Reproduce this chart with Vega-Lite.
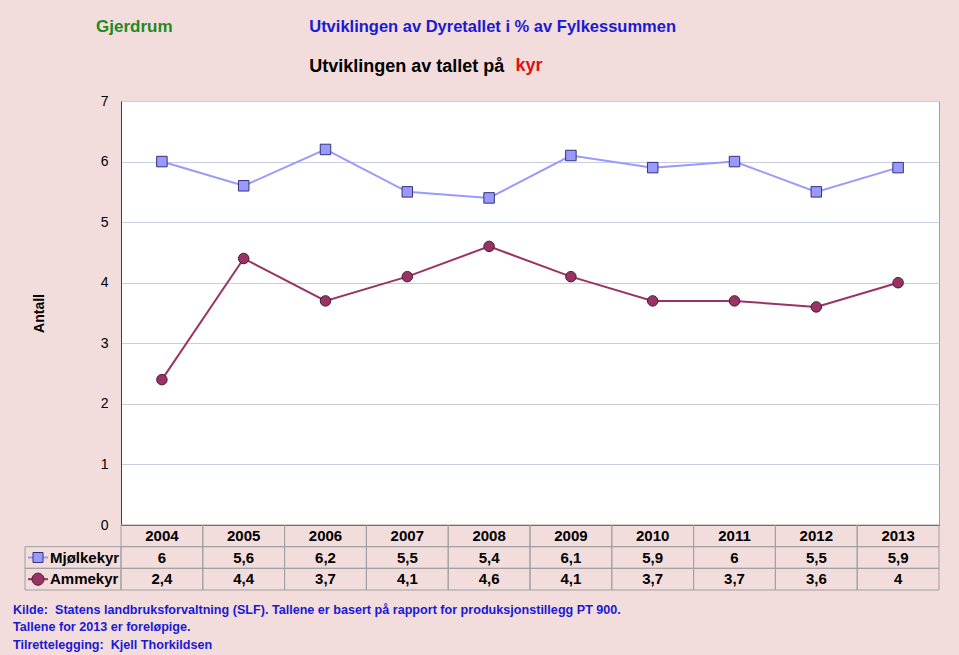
{
  "$schema": "https://vega.github.io/schema/vega-lite/v6.json",
  "background": "#f2dcdc",
  "padding": {"left": 13, "top": 18, "right": 21, "bottom": 4},
  "autosize": {"type": "pad"},
  "columns": 2,
  "spacing": 0,
  "bounds": "flush",
  "resolve": {"scale": {"x": "independent", "y": "independent", "color": "independent", "fill": "independent", "stroke": "independent", "shape": "independent"}},
  "config": {
    "font": "Liberation Sans",
    "view": {"stroke": null},
    "locale": {"number": {"decimal": ",", "thousands": " ", "grouping": [3], "currency": ["", " kr"]}}
  },
  "datasets": {
    "kyr": [
      {"year": "2004", "series": "Mjølkekyr", "value": 6},
      {"year": "2005", "series": "Mjølkekyr", "value": 5.6},
      {"year": "2006", "series": "Mjølkekyr", "value": 6.2},
      {"year": "2007", "series": "Mjølkekyr", "value": 5.5},
      {"year": "2008", "series": "Mjølkekyr", "value": 5.4},
      {"year": "2009", "series": "Mjølkekyr", "value": 6.1},
      {"year": "2010", "series": "Mjølkekyr", "value": 5.9},
      {"year": "2011", "series": "Mjølkekyr", "value": 6},
      {"year": "2012", "series": "Mjølkekyr", "value": 5.5},
      {"year": "2013", "series": "Mjølkekyr", "value": 5.9},
      {"year": "2004", "series": "Ammekyr", "value": 2.4},
      {"year": "2005", "series": "Ammekyr", "value": 4.4},
      {"year": "2006", "series": "Ammekyr", "value": 3.7},
      {"year": "2007", "series": "Ammekyr", "value": 4.1},
      {"year": "2008", "series": "Ammekyr", "value": 4.6},
      {"year": "2009", "series": "Ammekyr", "value": 4.1},
      {"year": "2010", "series": "Ammekyr", "value": 3.7},
      {"year": "2011", "series": "Ammekyr", "value": 3.7},
      {"year": "2012", "series": "Ammekyr", "value": 3.6},
      {"year": "2013", "series": "Ammekyr", "value": 4}
    ]
  },
  "concat": [
    {
      "width": 96,
      "height": 424,
      "title": {"text": "Gjerdrum", "anchor": "start", "dx": 71, "dy": -39, "offset": 26, "color": "#1e8a1e", "fontSize": 17, "fontWeight": "bold", "font": "Liberation Sans"},
      "data": {"values": []},
      "mark": "point"
    },
    {
      "width": 818,
      "height": 424,
      "title": {
        "text": "Utviklingen av Dyretallet i % av Fylkessummen",
        "subtitle": "Utviklingen av tallet på",
        "anchor": "start",
        "dx": 277,
        "offset": -20,
        "color": "#1a1ad0",
        "fontSize": 16.5,
        "fontWeight": "bold",
        "font": "Liberation Sans",
        "subtitleColor": "#000000",
        "subtitleFontSize": 18,
        "subtitleFontWeight": "bold",
        "subtitleFont": "Liberation Sans",
        "subtitlePadding": 23
      },
      "view": {"stroke": "#a0a0a0", "fill": "#ffffff"},
      "data": {"name": "kyr"},
      "encoding": {
        "x": {
          "field": "year",
          "type": "ordinal",
          "scale": {"type": "point", "padding": 0.5},
          "axis": {"orient": "top", "labels": false, "ticks": false, "domain": false, "grid": false, "title": "kyr", "titleColor": "#e01010", "titleFontSize": 18, "titleFontWeight": "bold", "titleFont": "Liberation Sans", "titleX": 394, "titleY": -31, "titleAlign": "left", "titleBaseline": "alphabetic"}
        },
        "y": {
          "field": "value",
          "type": "quantitative",
          "scale": {"domain": [0, 7]},
          "axis": {
            "values": [0, 1, 2, 3, 4, 5, 6, 7],
            "title": "Antall",
            "grid": true,
            "gridColor": {"condition": {"test": "datum.value === 0", "value": "#404040"}, "value": "#c8cde0"},
            "ticks": false,
            "domainColor": "#404040",
            "labelPadding": 13,
            "labelFontSize": 14,
            "labelColor": "#000000",
            "labelFont": "Liberation Sans",
            "titleFontSize": 14,
            "titleColor": "#000000",
            "titleFont": "Liberation Sans",
            "titleFontWeight": "bold",
            "titlePadding": 54
          }
        }
      },
      "layer": [
        {
          "mark": {"type": "line", "strokeWidth": 2},
          "encoding": {
            "color": {"field": "series", "type": "nominal", "scale": {"domain": ["Mjølkekyr", "Ammekyr"], "range": ["#9999ff", "#993366"]}, "legend": null}
          }
        },
        {
          "mark": {"type": "point", "filled": true, "size": 110, "opacity": 1, "strokeWidth": 1},
          "encoding": {
            "shape": {"field": "series", "type": "nominal", "scale": {"domain": ["Mjølkekyr", "Ammekyr"], "range": ["square", "circle"]}, "legend": null},
            "fill": {"field": "series", "type": "nominal", "scale": {"domain": ["Mjølkekyr", "Ammekyr"], "range": ["#9999ff", "#993366"]}, "legend": null},
            "stroke": {"field": "series", "type": "nominal", "scale": {"domain": ["Mjølkekyr", "Ammekyr"], "range": ["#333377", "#4a1630"]}, "legend": null}
          }
        }
      ]
    },
    {
      "width": 96,
      "height": 65,
      "title": {
        "text": ["Kilde:\u00a0 Statens landbruksforvaltning (SLF). Tallene er basert på rapport for produksjonstillegg PT 900.", "Tallene for 2013 er foreløpige.", "Tilrettelegging:\u00a0 Kjell Thorkildsen"],
        "orient": "bottom",
        "anchor": "start",
        "dx": -11,
        "offset": 13,
        "color": "#1a1ad0",
        "fontSize": 12.6,
        "fontWeight": "bold",
        "font": "Liberation Sans",
        "lineHeight": 17.5
      },
      "data": {"name": "kyr"},
      "transform": [{"filter": "datum.year == '2004'"}],
      "encoding": {
        "y": {"field": "series", "type": "nominal", "scale": {"domain": ["header", "Mjølkekyr", "Ammekyr"], "paddingInner": 0, "paddingOuter": 0}, "axis": null}
      },
      "layer": [
        {"mark": {"type": "rect", "fill": "transparent", "stroke": "#a0a0a0", "strokeWidth": 1}},
        {"mark": {"type": "text", "align": "left", "dx": -23, "fontSize": 15, "fontWeight": "bold", "color": "#000000", "font": "Liberation Sans"}, "encoding": {"text": {"field": "series"}}},
        {
          "mark": {"type": "point", "filled": false, "size": 400, "strokeWidth": 2, "opacity": 1},
          "encoding": {
            "shape": {"value": "M-4.5,0H-2.5"},
            "color": {"field": "series", "type": "nominal", "scale": {"domain": ["Mjølkekyr", "Ammekyr"], "range": ["#9999ff", "#993366"]}, "legend": null}
          }
        },
        {
          "mark": {"type": "point", "filled": true, "size": 400, "strokeWidth": 1, "opacity": 1},
          "encoding": {
            "shape": {"field": "series", "type": "nominal", "scale": {"domain": ["Mjølkekyr", "Ammekyr"], "range": ["M-4,-0.5H-3V0.5H-4Z", "M-2.9,0A0.6,0.6 0 1 1 -4.1,0A0.6,0.6 0 1 1 -2.9,0Z"]}, "legend": null},
            "fill": {"field": "series", "type": "nominal", "scale": {"domain": ["Mjølkekyr", "Ammekyr"], "range": ["#9999ff", "#993366"]}, "legend": null},
            "stroke": {"field": "series", "type": "nominal", "scale": {"domain": ["Mjølkekyr", "Ammekyr"], "range": ["#333377", "#4a1630"]}, "legend": null}
          }
        }
      ]
    },
    {
      "width": 818,
      "height": 65,
      "data": {"name": "kyr"},
      "encoding": {
        "x": {"field": "year", "type": "ordinal", "scale": {"type": "band", "paddingInner": 0, "paddingOuter": 0}, "axis": null}
      },
      "layer": [
        {
          "mark": {"type": "rect", "fill": "transparent", "stroke": "#a0a0a0", "strokeWidth": 1},
          "encoding": {
            "y": {"field": "series", "type": "nominal", "scale": {"domain": ["header", "Mjølkekyr", "Ammekyr"], "paddingInner": 0, "paddingOuter": 0}, "axis": null}
          }
        },
        {
          "mark": {"type": "text", "fontSize": 15, "fontWeight": "bold", "color": "#000000", "font": "Liberation Sans"},
          "encoding": {
            "y": {"field": "series", "type": "nominal"},
            "text": {"field": "value", "type": "quantitative", "format": ".1~f"}
          }
        },
        {
          "transform": [{"filter": "datum.series == 'Mjølkekyr'"}],
          "mark": {"type": "rect", "fill": "transparent", "stroke": "#a0a0a0", "strokeWidth": 1},
          "encoding": {"y": {"datum": "header", "type": "nominal"}}
        },
        {
          "transform": [{"filter": "datum.series == 'Mjølkekyr'"}],
          "mark": {"type": "text", "fontSize": 15, "fontWeight": "bold", "color": "#000000", "font": "Liberation Sans"},
          "encoding": {"y": {"datum": "header", "type": "nominal"}, "text": {"field": "year"}}
        }
      ]
    }
  ]
}
